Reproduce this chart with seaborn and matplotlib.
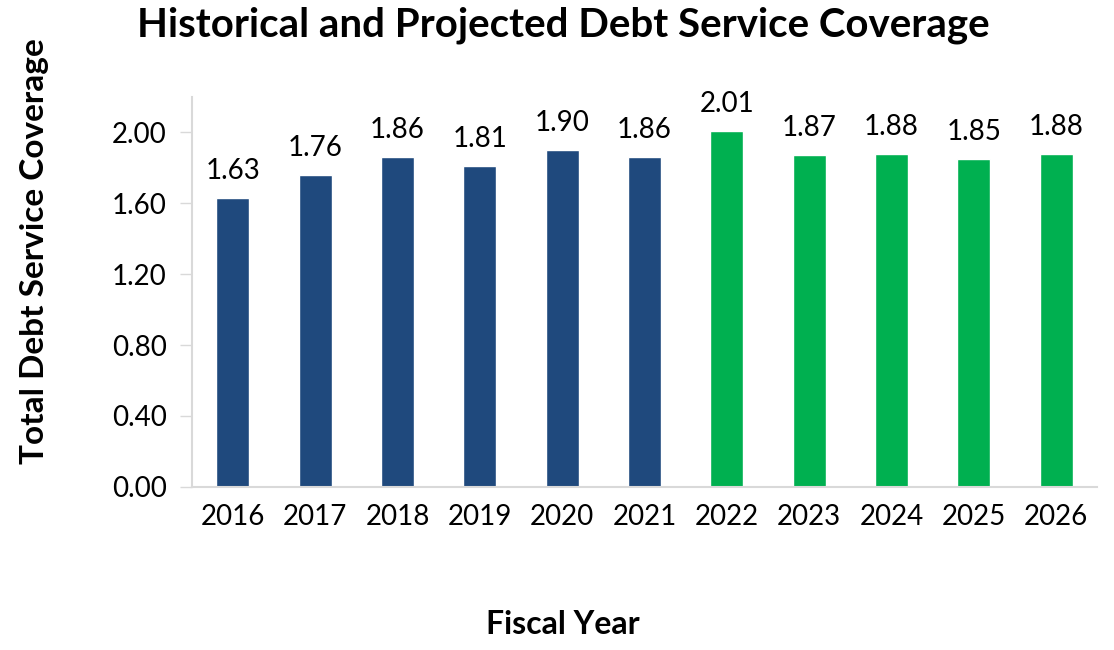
import matplotlib
matplotlib.use("Agg")
import matplotlib.pyplot as plt
import seaborn as sns
import pandas as pd

years = ["2016", "2017", "2018", "2019", "2020", "2021",
         "2022", "2023", "2024", "2025", "2026"]
coverage = [1.63, 1.76, 1.86, 1.81, 1.90, 1.86, 2.01, 1.87, 1.88, 1.85, 1.88]
kind = ["Historical"] * 6 + ["Projected"] * 5
y_ticks = [0.0, 0.4, 0.8, 1.2, 1.6, 2.0]

df = pd.DataFrame({"year": years, "coverage": coverage, "kind": kind})

sns.set_style("white")
plt.rcParams["font.family"] = ["Lato", "DejaVu Sans"]
plt.rcParams["text.color"] = "black"
plt.rcParams["xtick.labelcolor"] = "black"
plt.rcParams["ytick.labelcolor"] = "black"
plt.rcParams["axes.labelcolor"] = "black"

fig = plt.figure(figsize=(11.14, 6.5), dpi=100)
ax = fig.add_axes([0.172, 0.251, 0.813, 0.600])

sns.barplot(data=df, x="year", y="coverage", hue="kind",
            palette={"Historical": "#1F497D", "Projected": "#00B050"},
            width=0.4, dodge=False, legend=False, ax=ax, saturation=1)

for c in ax.containers:
    ax.bar_label(c, fmt="%.2f", padding=10, fontsize=20, color="black")

ax.set_ylim(0, 2.2)
ax.set_xlim(-0.5, 10.5)
ax.set_yticks(y_ticks)
ax.set_yticklabels([f"{t:.2f}" for t in y_ticks])
ax.tick_params(axis="y", labelsize=20, length=9, width=1, color="#D9D9D9",
               direction="out", left=True, pad=9)
ax.tick_params(axis="x", labelsize=20, length=0, pad=12)

for s in ["top", "right"]:
    ax.spines[s].set_visible(False)
for s in ["left", "bottom"]:
    ax.spines[s].set_color("#D9D9D9")
    ax.spines[s].set_linewidth(1.5)

ax.set_xlabel("Fiscal Year", fontsize=23, fontweight="bold")
ax.xaxis.set_label_coords(0.41, -0.315)
ax.set_ylabel("Total Debt Service Coverage", fontsize=24, fontweight="bold")
ax.yaxis.set_label_coords(-0.158, 0.605)
fig.suptitle("Historical and Projected Debt Service Coverage",
             fontsize=29, fontweight="bold", x=0.506, y=0.99)

fig.savefig("out.png", dpi=100)
